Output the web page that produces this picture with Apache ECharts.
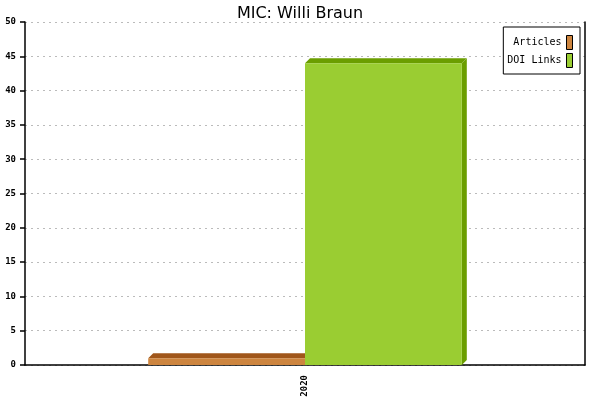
<!DOCTYPE html>
<html>
<head>
<meta charset="utf-8">
<script src="https://cdn.jsdelivr.net/npm/echarts@6/dist/echarts.min.js"></script>
<style>
  html, body { margin: 0; padding: 0; background: #fff; }
  #main { width: 600px; height: 400px; }
</style>
</head>
<body>
<div id="main"></div>
<script>
var years = ['2020'];
var articles = [1];
var doiLinks = [44];
var yTicks = [0, 5, 10, 15, 20, 25, 30, 35, 40, 45, 50];

var chart = echarts.init(document.getElementById('main'));

var DEPTH = 5;     // 3d offset in px
var BAR_FRAC = 0.28;

// draws one 3d bar: front, top and right side
function bar3d(offsetIdx, front, dark) {
  return function (params, api) {
    var idx = api.value(0);
    var top = api.coord([idx, api.value(1)]);
    var base = api.coord([idx, 0]);
    var bw = api.size([1, 0])[0] * BAR_FRAC;
    var x0 = top[0] + offsetIdx * bw;
    var x1 = x0 + bw;
    var yT = top[1], yB = base[1];
    return {
      type: 'group',
      children: [
        { type: 'polygon', shape: { points: [[x0, yT], [x1, yT], [x1 + DEPTH, yT - DEPTH], [x0 + DEPTH, yT - DEPTH]] },
          style: { fill: dark } },
        { type: 'polygon', shape: { points: [[x1, yT], [x1 + DEPTH, yT - DEPTH], [x1 + DEPTH, yB - DEPTH], [x1, yB]] },
          style: { fill: dark } },
        { type: 'rect', shape: { x: x0, y: yT, width: bw, height: yB - yT },
          style: { fill: front } }
      ]
    };
  };
}

var option = {
  animation: false,
  title: {
    text: 'MIC: Willi Braun',
    left: 'center',
    top: 1,
    textStyle: { fontFamily: 'DejaVu Sans', fontSize: 16, fontWeight: 'normal', color: '#000' }
  },
  legend: {
    orient: 'vertical',
    right: 20,
    top: 27,
    align: 'right',
    icon: 'rect',
    backgroundColor: '#fff',
    borderColor: '#000',
    borderWidth: 1,
    padding: [8, 7, 6, 4],
    itemGap: 3,
    itemWidth: 6,
    itemHeight: 14,
    textStyle: { fontFamily: 'DejaVu Sans Mono', fontSize: 10, color: '#000', width: 54, align: 'right' },
    data: [
      { name: 'Articles', itemStyle: { color: '#cd853f', borderColor: '#000', borderWidth: 1 } },
      { name: 'DOI Links', itemStyle: { color: '#9acd32', borderColor: '#000', borderWidth: 1 } }
    ]
  },
  grid: { left: 25, right: 15, top: 22, bottom: 35 },
  xAxis: {
    type: 'category',
    data: years,
    axisLine: { lineStyle: { color: '#000', width: 1.5 } },
    axisTick: { length: 5, lineStyle: { color: '#000', width: 1.5 } },
    axisLabel: { rotate: 90, margin: 10, fontFamily: 'DejaVu Sans Mono', fontSize: 9, fontWeight: 'bold', color: '#000' }
  },
  yAxis: [{
    type: 'value',
    min: yTicks[0],
    max: yTicks[yTicks.length - 1],
    interval: 5,
    axisLine: { show: true, lineStyle: { color: '#000', width: 1.5 } },
    axisTick: { show: true, length: 5, lineStyle: { color: '#000', width: 1.5 } },
    axisLabel: { margin: 9, fontFamily: 'DejaVu Sans Mono', fontSize: 9, fontWeight: 'bold', color: '#000' },
    splitLine: { lineStyle: { color: '#bbb', type: [2, 4] } }
  }, {
    type: 'value',
    position: 'right',
    min: yTicks[0],
    max: yTicks[yTicks.length - 1],
    interval: 5,
    axisLine: { show: true, lineStyle: { color: '#000', width: 1.5 } },
    axisTick: { show: false },
    axisLabel: { show: false },
    splitLine: { show: false }
  }],
  series: [
    {
      name: 'Articles',
      type: 'custom',
      itemStyle: { color: '#cd853f' },
      renderItem: bar3d(-1, '#cd853f', '#a0561a'),
      encode: { x: 0, y: 1 },
      data: articles.map(function (v, i) { return [i, v]; })
    },
    {
      name: 'DOI Links',
      type: 'custom',
      itemStyle: { color: '#9acd32' },
      renderItem: bar3d(0, '#9acd32', '#6b9e00'),
      encode: { x: 0, y: 1 },
      data: doiLinks.map(function (v, i) { return [i, v]; })
    }
  ]
};

chart.setOption(option);
</script>
</body>
</html>
